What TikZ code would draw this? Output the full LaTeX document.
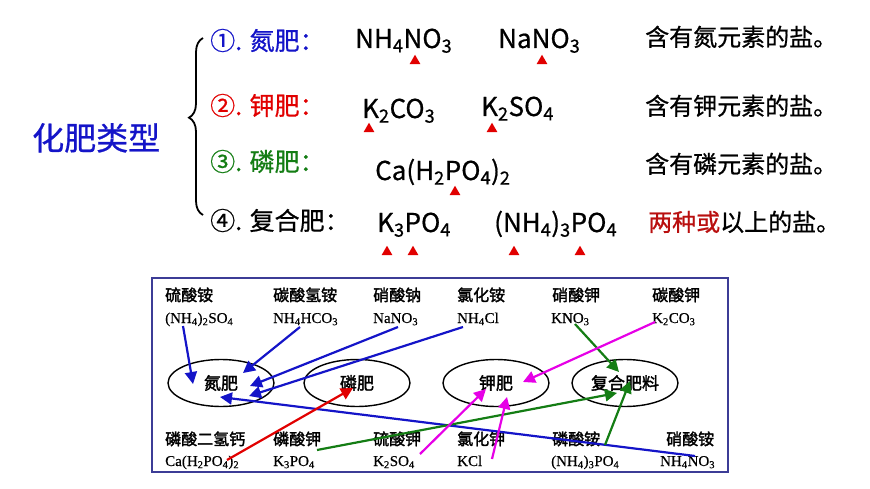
\documentclass[tikz,border=0pt]{standalone}
\usepackage{fontspec}
\setmainfont{Noto Sans CJK SC}[FakeBold=0.7]
\newfontfamily\heavy{Noto Sans CJK SC}[FakeBold=2]
\newfontfamily\tms{Liberation Serif}[FakeBold=0.5]
\usetikzlibrary{shapes.geometric,arrows.meta,decorations.pathreplacing}
\definecolor{nblue}{RGB}{20,20,200}
\definecolor{nred}{RGB}{225,0,0}
\definecolor{ngreen}{RGB}{20,125,20}
\definecolor{dred}{RGB}{185,15,15}
\definecolor{nmag}{RGB}{230,0,230}
\definecolor{framec}{RGB}{60,60,150}
\tikzset{
  lab/.style={anchor=base west, inner sep=0pt},
  title/.style={lab, font=\fontsize{32}{35}\selectfont},
  kind/.style={lab, font=\fontsize{25}{28}\selectfont},
  chem/.style={lab, font=\fontsize{26}{30}\selectfont},
  note/.style={lab, font=\fontsize{24}{28}\selectfont},
  tri/.style={regular polygon, regular polygon sides=3, fill=nred, inner sep=0pt, minimum size=12.5pt},
  salt/.style={lab, font=\heavy\fontsize{16}{18}\selectfont},
  formula/.style={lab, font=\tms\fontsize{15}{17}\selectfont},
  ell/.style={draw, ellipse, line width=1.4pt, minimum width=106pt, minimum height=47pt, inner sep=0pt, font=\heavy\fontsize{17}{19}\selectfont},
  arr/.style={line width=2.2pt, -{Triangle[length=12pt,width=12pt]}}
}
\begin{document}
\begin{tikzpicture}[x=1pt,y=-1pt]
  \useasboundingbox (0,0) rectangle (870,489);
  % classes of fertiliser
  \draw
    (32,150) node[title, text=nblue] (type){化肥类型}
    (210,50) node[kind, text=nblue] (k1){①. 氮肥：}
    (210,115) node[kind, text=nred] (k2){②. 钾肥：}
    (210,171) node[kind, text=ngreen] (k3){③. 磷肥：}
    (210,230) node[kind] (k4){④. 复合肥：}
    (355,48) node[chem] (nh4no3){NH\textsubscript{4}NO\textsubscript{3}}
    (498,48) node[chem] (nano3){NaNO\textsubscript{3}}
    (362,118) node[chem] (k2co3){K\textsubscript{2}CO\textsubscript{3}}
    (481,116) node[chem] (k2so4){K\textsubscript{2}SO\textsubscript{4}}
    (375,180) node[chem] (cahpo){Ca(H\textsubscript{2}PO\textsubscript{4})\textsubscript{2}}
    (377,232) node[chem] (k3po4){K\textsubscript{3}PO\textsubscript{4}}
    (494,232) node[chem] (nh43po4){(NH\textsubscript{4})\textsubscript{3}PO\textsubscript{4}}
    (645,46) node[note] (n1){含有氮元素的盐。}
    (645,115) node[note] (n2){含有钾元素的盐。}
    (645,173) node[note] (n3){含有磷元素的盐。}
    (648,231) node[note] (n4){{\color{dred}两种或}以上的盐。};
  \draw[line width=1.8pt, decorate, decoration={brace, amplitude=14pt, aspect=0.55}]
    (203,215) -- (203,38);
  % marks under the key elements
  \draw
    (415,61) node[tri] (t1){}
    (542,61) node[tri] (t2){}
    (369,129) node[tri] (t3){}
    (492,129) node[tri] (t4){}
    (455,192) node[tri] (t5){}
    (387,252) node[tri] (t6){}
    (413,252) node[tri] (t7){}
    (514,252) node[tri] (t8){}
    (580,252) node[tri] (t9){};
  % examples
  \draw[line width=1.5pt, framec] (152,278) rectangle (728,472);
  \draw
    (165,301) node[salt] (s1){硫酸铵}
    (273,301) node[salt] (s2){碳酸氢铵}
    (373,301) node[salt] (s3){硝酸钠}
    (457,301) node[salt] (s4){氯化铵}
    (552,301) node[salt] (s5){硝酸钾}
    (652,301) node[salt] (s6){碳酸钾}
    (165,323) node[formula] (f1){(NH\textsubscript{4})\textsubscript{2}SO\textsubscript{4}}
    (273,323) node[formula] (f2){NH\textsubscript{4}HCO\textsubscript{3}}
    (373,323) node[formula] (f3){NaNO\textsubscript{3}}
    (457,323) node[formula] (f4){NH\textsubscript{4}Cl}
    (551,323) node[formula] (f5){KNO\textsubscript{3}}
    (652,323) node[formula] (f6){K\textsubscript{2}CO\textsubscript{3}}
    (165,445) node[salt] (s7){磷酸二氢钙}
    (273,445) node[salt] (s8){磷酸钾}
    (373,445) node[salt] (s9){硫酸钾}
    (457,445) node[salt] (s10){氯化钾}
    (552,445) node[salt] (s11){磷酸铵}
    (666,445) node[salt] (s12){硝酸铵}
    (165,466) node[formula] (f7){Ca(H\textsubscript{2}PO\textsubscript{4})\textsubscript{2}}
    (273,466) node[formula] (f8){K\textsubscript{3}PO\textsubscript{4}}
    (373,466) node[formula] (f9){K\textsubscript{2}SO\textsubscript{4}}
    (457,466) node[formula] (f10){KCl}
    (551,466) node[formula] (f11){(NH\textsubscript{4})\textsubscript{3}PO\textsubscript{4}}
    (660,466) node[formula] (f12){NH\textsubscript{4}NO\textsubscript{3}};
  \draw
    (221,383) node[ell] (dan){氮肥}
    (357,383) node[ell] (lin){磷肥}
    (496,383) node[ell] (jia){钾肥}
    (625,383) node[ell] (fuhe){复合肥料};
  % arrow ends
  \path
    (183,326) coordinate (f1s) (193,384) coordinate (dan1)
    (300,327) coordinate (f2s) (243,373) coordinate (dan2)
    (398,327) coordinate (f3s) (250,386) coordinate (dan3)
    (463,327) coordinate (f4s) (249,396) coordinate (dan4)
    (695,456) coordinate (f12s) (220,397) coordinate (dan5)
    (227,460) coordinate (f7s) (353,388) coordinate (lin1)
    (317,450) coordinate (f8s) (617,393) coordinate (fuhe1)
    (575,324) coordinate (f5s) (619,372) coordinate (fuhe2)
    (605,445) coordinate (f11s) (630,381) coordinate (fuhe3)
    (655,322) coordinate (f6s) (523,382) coordinate (jia1)
    (420,454) coordinate (f9s) (486,389) coordinate (jia2)
    (492,459) coordinate (f10s) (507,397) coordinate (jia3);
  \begin{scope}[arr]
    \draw[nblue] (f1s) to (dan1);
    \draw[nblue] (f2s) to (dan2);
    \draw[nblue] (f3s) to (dan3);
    \draw[nblue] (f4s) to (dan4);
    \draw[nblue] (f12s) to (dan5);
    \draw[nred] (f7s) to (lin1);
    \draw[ngreen] (f8s) to (fuhe1);
    \draw[ngreen] (f5s) to (fuhe2);
    \draw[ngreen] (f11s) to (fuhe3);
    \draw[nmag] (f6s) to (jia1);
    \draw[nmag] (f9s) to (jia2);
    \draw[nmag] (f10s) to (jia3);
  \end{scope}
\end{tikzpicture}
\end{document}
